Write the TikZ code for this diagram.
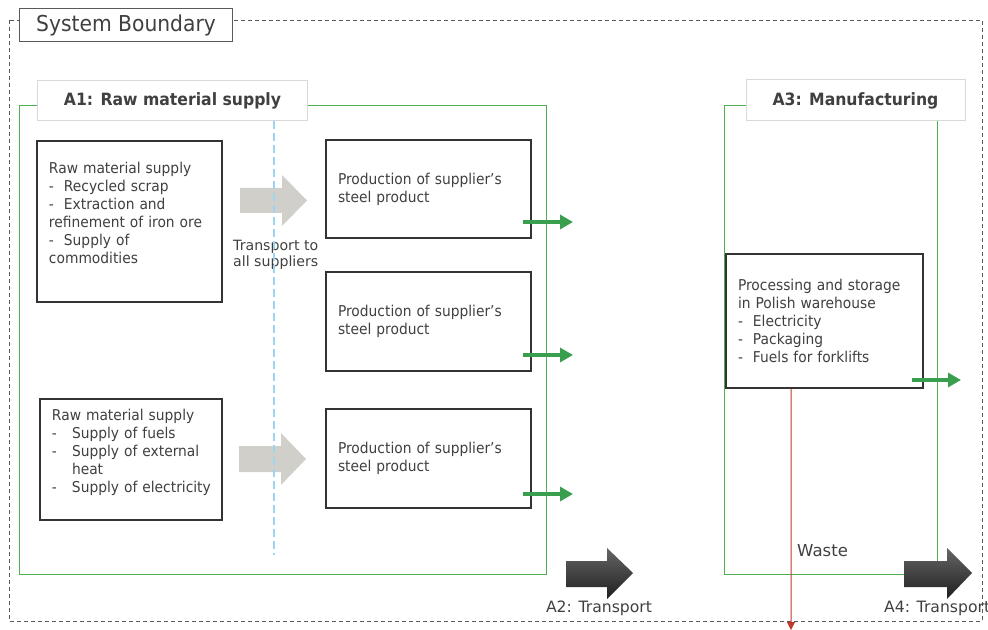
\documentclass[tikz,border=0pt]{standalone}
\usepackage{fontspec}
\setmainfont{DejaVu Sans}[FakeStretch=0.925]
\newfontfamily\vfont{DejaVu Sans}
\usetikzlibrary{arrows.meta}
\definecolor{txt}{HTML}{404040}
\definecolor{grn}{HTML}{4CAF50}
\definecolor{garr}{HTML}{3A9E4F}
\definecolor{lgray}{HTML}{D0CFCA}
\definecolor{bdr}{HTML}{333333}
\definecolor{lblue}{HTML}{9DD4F0}
\definecolor{redl}{HTML}{C0392B}
\definecolor{lbl}{HTML}{D9D9D9}
\begin{document}
\begin{tikzpicture}[x=1bp,y=-1bp,
  every node/.style={text=txt},
  stepbox/.style={draw=bdr, line width=1.6bp, fill=white, align=left,
    inner xsep=12bp, inner ysep=0pt, font=\fontsize{15}{18}\selectfont},
  labelbox/.style={draw=lbl, line width=1bp, fill=white, inner sep=0pt,
    font=\bfseries\fontsize{17}{20}\selectfont},
  zone/.style={draw=grn, line width=1bp},
  garrow/.style={draw=garr, line width=3.5bp, -{Triangle[length=13bp,width=14bp]}},
  plain/.style={font=\vfont\fontsize{14.2}{16}\selectfont, inner sep=0pt, align=left}
]
\useasboundingbox (0,0) rectangle (988,630);

% outer system boundary
\draw[draw=black!65, line width=0.9bp, dash pattern=on 4bp off 3bp] (9,20) rectangle (982,621);
\node[draw=black!65, line width=1bp, fill=white, minimum width=212bp, minimum height=33bp,
      inner sep=0pt, font=\fontsize{22}{24}\selectfont] (sb) at (126,25.5) {System Boundary};

% zones
\draw[zone] (19,106) rectangle (546,574);
\draw[zone] (724,106) rectangle (937,574);
\node[labelbox, minimum width=269bp, minimum height=40bp] (a1) at (172.5,101) {A1: Raw material supply};
\node[labelbox, minimum width=219bp, minimum height=41bp] (a3) at (855.5,100.5) {A3: Manufacturing};

% raw material boxes
\node[stepbox, text width=161bp, minimum height=161bp] (r1) at (129.5,221.5)
  {Raw material supply\\
   -\ \ Recycled scrap\\
   -\ \ Extraction and\\
   \mbox{refinement of iron ore}\\
   -\ \ Supply of\\
   commodities\\
   \mbox{}};
\node[stepbox, text width=158bp, minimum height=121bp] (r2) at (131,459.5)
  {Raw material supply\\
   \mbox{\makebox[20bp][l]{-}Supply of fuels}\\
   \mbox{\makebox[20bp][l]{-}Supply of external}\\
   \mbox{\hspace*{20bp}heat}\\
   \mbox{\makebox[20bp][l]{-}Supply of electricity}\\
   \mbox{}};

% production boxes
\node[stepbox, text width=181bp, minimum height=98bp] (p1) at (428.5,189)
  {Production of supplier’s\\steel product};
\node[stepbox, text width=181bp, minimum height=99bp] (p2) at (428.5,321.5)
  {Production of supplier’s\\steel product};
\node[stepbox, text width=181bp, minimum height=99bp] (p3) at (428.5,458.5)
  {Production of supplier’s\\steel product};

% processing box
\node[stepbox, text width=173bp, minimum height=134bp] (pr) at (824.5,321)
  {Processing and storage\\
   in Polish warehouse\\
   -\ \ Electricity\\
   -\ \ Packaging\\
   -\ \ Fuels for forklifts};

% grey transport arrows
\fill[lgray] (240,188) -- (282,188) -- (282,175) -- (307,200.5) -- (282,226) -- (282,213) -- (240,213) -- cycle;
\fill[lgray] (239,446) -- (281,446) -- (281,433) -- (306,459) -- (281,485) -- (281,472) -- (239,472) -- cycle;
\node[plain, anchor=west] (tr) at (233,255) {Transport to\\all suppliers};

% blue dashed divider
\draw[draw=lblue, line width=1.5bp, dash pattern=on 8bp off 4bp] (274,121) -- (274,555);

% green output arrows
\coordinate (e1) at (573,222);
\coordinate (e2) at (573,355);
\coordinate (e3) at (573,494);
\coordinate (e4) at (961,380);
\draw[garrow] ([xshift=-9bp]p1.east |- e1) -- (e1);
\draw[garrow] ([xshift=-9bp]p2.east |- e2) -- (e2);
\draw[garrow] ([xshift=-9bp]p3.east |- e3) -- (e3);
\draw[garrow] ([xshift=-12bp]pr.east |- e4) -- (e4);

% waste
\coordinate (wend) at (791,630);
\draw[draw=redl, line width=1bp, -{Triangle[length=8bp,width=8bp]}] ([xshift=-33.5bp]pr.south) -- (wend);
\node[plain, anchor=west, font=\vfont\fontsize{16.6}{18}\selectfont] (waste) at (797,551) {Waste};

% dark transport arrows
\shade[top color=black!60, bottom color=black!88]
  (566,561) -- (607,561) -- (607,548) -- (633,573) -- (607,599) -- (607,587) -- (566,587) -- cycle;
\shade[top color=black!60, bottom color=black!88]
  (904,561) -- (947,561) -- (947,548) -- (972,573) -- (947,599) -- (947,587) -- (904,587) -- cycle;
\node[plain, font=\vfont\fontsize{15.7}{18}\selectfont] (a2) at (599,608) {A2: Transport};
\node[plain, anchor=west, font=\vfont\fontsize{15.7}{18}\selectfont] (a4) at (884,608) {A4: Transport};
\end{tikzpicture}
\end{document}
